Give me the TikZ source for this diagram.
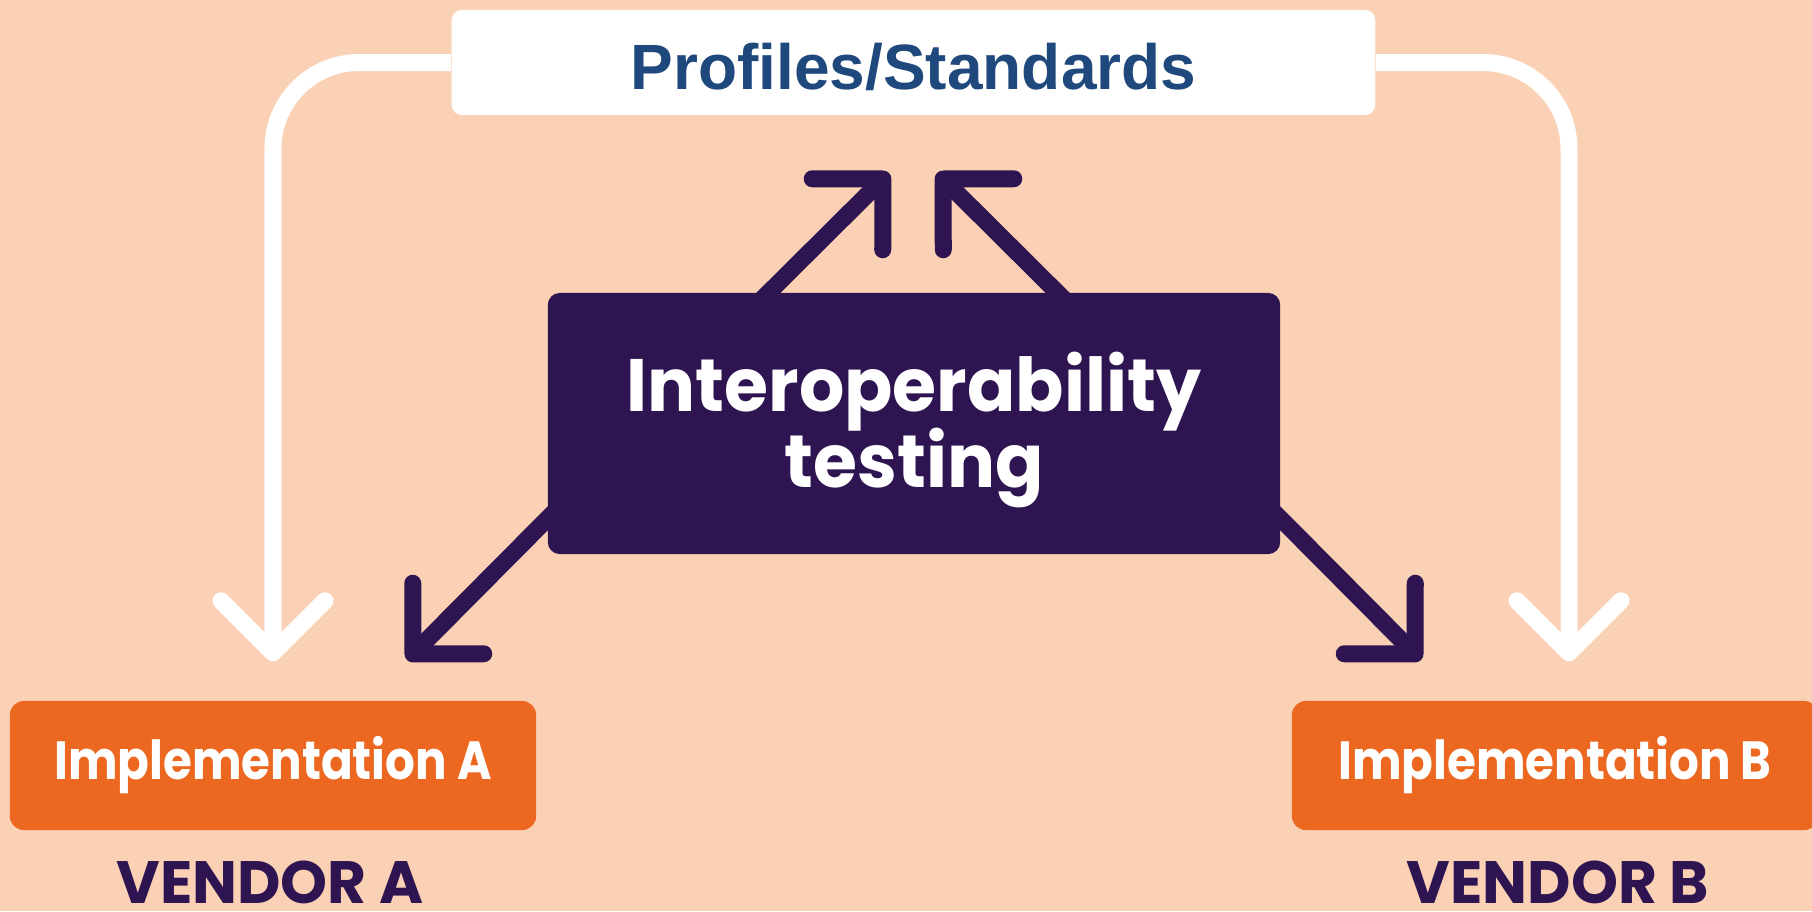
\documentclass[tikz,border=0pt]{standalone}
\usepackage{fontspec}
\setmainfont{Liberation Sans}
\newfontfamily\roundfont{Poppins}
\newfontfamily\titlefont[FakeStretch=0.96]{Poppins}
\newfontfamily\labelfont[FakeStretch=0.87]{Poppins}
\usetikzlibrary{arrows.meta,calc}
\definecolor{peach}{HTML}{FAD1B5}
\definecolor{deeppurple}{HTML}{2E1450}
\definecolor{vendorange}{HTML}{EC6720}
\definecolor{stdblue}{HTML}{1F497D}
\setlength{\lineskiplimit}{-1cm}
\begin{document}
\begin{tikzpicture}[x=0.01cm,y=-0.01cm,
  whitebox/.style={fill=white,rounded corners=0.1cm,minimum width=9.23cm,minimum height=1.05cm,
    text=stdblue,font=\bfseries\fontsize{18.2}{20}\selectfont,text height=0.6cm,text depth=0.07cm},
  testbox/.style={fill=deeppurple,rounded corners=0.12cm,minimum width=7.32cm,minimum height=2.61cm,
    text=white,align=center,font=\titlefont\bfseries\fontsize{21.1}{21.6}\selectfont},
  implbox/.style={fill=vendorange,rounded corners=0.14cm,minimum width=5.26cm,minimum height=1.29cm,
    text=white,font=\labelfont\bfseries\fontsize{15.3}{18}\selectfont},
  vendor/.style={anchor=base,inner sep=0pt,text=deeppurple,font=\roundfont\bfseries\fontsize{17}{20}\selectfont},
  whitearrow/.style={draw=white,line width=0.17cm,rounded corners=0.86cm,shorten >=0.39cm,
    -{Straight Barb[length=5.2mm,width=10.4mm,round]}},
  purplearrow/.style={draw=deeppurple,line width=0.17cm,shorten <=-0.2cm,
    -{Straight Barb[length=5mm,width=10mm,round]}}]
  \useasboundingbox (0,0) rectangle (1812,911);
  \fill[peach] (0,0) rectangle (1812,911);
  \node[whitebox] (prof) at (913.5,62.5) {Profiles/Standards};
  \node[testbox] (test) at (914,423.5) {\rule{0pt}{0.72cm}Interoperability\\testing};
  \node[implbox] (implA) at (273,765.5) {Implementation A};
  \node[implbox] (implB) at (1555,765.5) {Implementation B};
  \foreach \v/\x in {A/270,B/1558}
    \node[vendor] (vend\v) at (\x,903) {VENDOR \v};
  \draw[whitearrow] (prof.west) -| (implA.north);
  \draw[whitearrow] (prof.east) -| ($(implB.north)+(14,0)$);
  \coordinate (tipUL) at (889,173);
  \coordinate (tipUR) at (937,173);
  \coordinate (tipDL) at (407,660);
  \coordinate (tipDR) at (1421,660);
  \draw[purplearrow] ($(test.north)+(-145,0)$) -- (tipUL);
  \draw[purplearrow] ($(test.north)+(143,0)$) -- (tipUR);
  \draw[purplearrow] ($(test.west)+(0,95.5)$) -- (tipDL);
  \draw[purplearrow] ($(test.east)+(0,95.5)$) -- (tipDR);
\end{tikzpicture}
\end{document}
